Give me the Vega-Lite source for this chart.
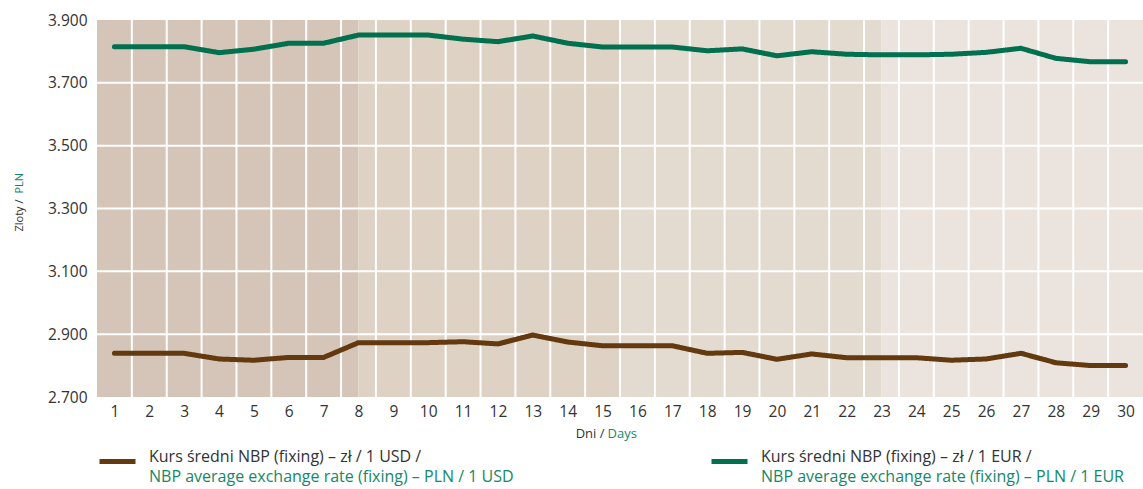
{
  "$schema": "https://vega.github.io/schema/vega-lite/v6.json",
  "width": 1046,
  "height": 377,
  "autosize": {"type": "none"},
  "padding": {"left": 97, "top": 20, "right": 0, "bottom": 92},
  "background": "white",
  "config": {
    "view": {"stroke": null},
    "font": "Open Sans",
    "axis": {"labelFont": "Open Sans", "titleFont": "Open Sans", "titleFontWeight": "normal"},
    "legend": {"labelFont": "Open Sans", "titleFont": "Open Sans"}
  },
  "datasets": {
    "rates": [
      {"day": 1, "cur": "USD", "rate": 2.839}, {"day": 2, "cur": "USD", "rate": 2.839}, {"day": 3, "cur": "USD", "rate": 2.839},
      {"day": 4, "cur": "USD", "rate": 2.821}, {"day": 5, "cur": "USD", "rate": 2.817}, {"day": 6, "cur": "USD", "rate": 2.826},
      {"day": 7, "cur": "USD", "rate": 2.826}, {"day": 8, "cur": "USD", "rate": 2.873}, {"day": 9, "cur": "USD", "rate": 2.873},
      {"day": 10, "cur": "USD", "rate": 2.873}, {"day": 11, "cur": "USD", "rate": 2.876}, {"day": 12, "cur": "USD", "rate": 2.869},
      {"day": 13, "cur": "USD", "rate": 2.897}, {"day": 14, "cur": "USD", "rate": 2.875}, {"day": 15, "cur": "USD", "rate": 2.863},
      {"day": 16, "cur": "USD", "rate": 2.863}, {"day": 17, "cur": "USD", "rate": 2.863}, {"day": 18, "cur": "USD", "rate": 2.839},
      {"day": 19, "cur": "USD", "rate": 2.842}, {"day": 20, "cur": "USD", "rate": 2.820}, {"day": 21, "cur": "USD", "rate": 2.837},
      {"day": 22, "cur": "USD", "rate": 2.825}, {"day": 23, "cur": "USD", "rate": 2.825}, {"day": 24, "cur": "USD", "rate": 2.825},
      {"day": 25, "cur": "USD", "rate": 2.817}, {"day": 26, "cur": "USD", "rate": 2.821}, {"day": 27, "cur": "USD", "rate": 2.839},
      {"day": 28, "cur": "USD", "rate": 2.809}, {"day": 29, "cur": "USD", "rate": 2.800}, {"day": 30, "cur": "USD", "rate": 2.800},
      {"day": 1, "cur": "EUR", "rate": 3.815}, {"day": 2, "cur": "EUR", "rate": 3.815}, {"day": 3, "cur": "EUR", "rate": 3.815},
      {"day": 4, "cur": "EUR", "rate": 3.796}, {"day": 5, "cur": "EUR", "rate": 3.807}, {"day": 6, "cur": "EUR", "rate": 3.826},
      {"day": 7, "cur": "EUR", "rate": 3.826}, {"day": 8, "cur": "EUR", "rate": 3.852}, {"day": 9, "cur": "EUR", "rate": 3.852},
      {"day": 10, "cur": "EUR", "rate": 3.852}, {"day": 11, "cur": "EUR", "rate": 3.839}, {"day": 12, "cur": "EUR", "rate": 3.831},
      {"day": 13, "cur": "EUR", "rate": 3.849}, {"day": 14, "cur": "EUR", "rate": 3.826}, {"day": 15, "cur": "EUR", "rate": 3.814},
      {"day": 16, "cur": "EUR", "rate": 3.814}, {"day": 17, "cur": "EUR", "rate": 3.814}, {"day": 18, "cur": "EUR", "rate": 3.802},
      {"day": 19, "cur": "EUR", "rate": 3.808}, {"day": 20, "cur": "EUR", "rate": 3.786}, {"day": 21, "cur": "EUR", "rate": 3.799},
      {"day": 22, "cur": "EUR", "rate": 3.791}, {"day": 23, "cur": "EUR", "rate": 3.789}, {"day": 24, "cur": "EUR", "rate": 3.789},
      {"day": 25, "cur": "EUR", "rate": 3.791}, {"day": 26, "cur": "EUR", "rate": 3.797}, {"day": 27, "cur": "EUR", "rate": 3.810},
      {"day": 28, "cur": "EUR", "rate": 3.778}, {"day": 29, "cur": "EUR", "rate": 3.767}, {"day": 30, "cur": "EUR", "rate": 3.767}
    ],
    "bands": [
      {"start": 0.5, "end": 8, "band": "q1"},
      {"start": 8, "end": 15.5, "band": "q2"},
      {"start": 15.5, "end": 23, "band": "q3"},
      {"start": 23, "end": 30.5, "band": "q4"}
    ],
    "vgrid": [
      {"d": 1.5}, {"d": 2.5}, {"d": 3.5}, {"d": 4.5}, {"d": 5.5}, {"d": 6.5}, {"d": 7.5}, {"d": 8.5}, {"d": 9.5}, {"d": 10.5},
      {"d": 11.5}, {"d": 12.5}, {"d": 13.5}, {"d": 14.5}, {"d": 15.5}, {"d": 16.5}, {"d": 17.5}, {"d": 18.5}, {"d": 19.5}, {"d": 20.5},
      {"d": 21.5}, {"d": 22.5}, {"d": 23.5}, {"d": 24.5}, {"d": 25.5}, {"d": 26.5}, {"d": 27.5}, {"d": 28.5}, {"d": 29.5}
    ],
    "hgrid": [{"v": 2.9}, {"v": 3.1}, {"v": 3.3}, {"v": 3.5}, {"v": 3.7}]
  },
  "layer": [
    {
      "data": {"name": "bands"},
      "mark": {"type": "rect"},
      "encoding": {
        "x": {"field": "start", "type": "quantitative", "scale": {"domain": [0.5, 30.5], "nice": false, "zero": false}, "axis": null},
        "x2": {"field": "end"},
        "fill": {"field": "band", "type": "nominal", "scale": {"domain": ["q1", "q2", "q3", "q4"], "range": ["#d5c5b8", "#ded2c5", "#e3dad0", "#ebe4de"]}, "legend": null}
      }
    },
    {
      "data": {"name": "vgrid"},
      "mark": {"type": "rule", "color": "white", "strokeWidth": 2},
      "encoding": {
        "x": {"field": "d", "type": "quantitative", "scale": {"domain": [0.5, 30.5], "nice": false, "zero": false}, "axis": null}
      }
    },
    {
      "data": {"name": "hgrid"},
      "mark": {"type": "rule", "color": "white", "strokeWidth": 2},
      "encoding": {
        "y": {"field": "v", "type": "quantitative", "scale": {"domain": [2.7, 3.9], "nice": false, "zero": false}, "axis": null}
      }
    },
    {
      "data": {"name": "rates"},
      "transform": [{"filter": "datum.cur === 'USD'"}],
      "mark": {"type": "line", "strokeWidth": 5, "strokeCap": "round", "strokeJoin": "round"},
      "encoding": {
        "x": {
          "field": "day", "type": "quantitative",
          "scale": {"domain": [0.5, 30.5], "nice": false, "zero": false},
          "axis": {
            "orient": "bottom",
            "values": [1,2,3,4,5,6,7,8,9,10,11,12,13,14,15,16,17,18,19,20,21,22,23,24,25,26,27,28,29,30],
            "format": "d", "labelFontSize": 15.5, "labelColor": "#333333", "labelPadding": 7,
            "ticks": false, "domain": false, "grid": false,
            "title": "Dni /", "titleColor": "#333333", "titleFontSize": 13,
            "titleX": 507, "titleY": 40, "titleAlign": "right", "titleBaseline": "alphabetic"
          }
        },
        "y": {
          "field": "rate", "type": "quantitative",
          "scale": {"domain": [2.7, 3.9], "nice": false, "zero": false},
          "axis": {
            "orient": "left",
            "values": [2.7, 2.9, 3.1, 3.3, 3.5, 3.7, 3.9],
            "format": ".3f", "labelFontSize": 15.5, "labelColor": "#333333", "labelPadding": 10,
            "ticks": false, "domain": false, "grid": false,
            "title": "Zloty /", "titleColor": "#333333", "titleFontSize": 11,
            "titleAngle": 270, "titleX": -73, "titleY": 179, "titleAlign": "right", "titleBaseline": "bottom"
          }
        },
        "color": {
          "field": "cur", "type": "nominal",
          "scale": {"domain": ["USD"], "range": ["#63390f"]},
          "legend": {
            "orient": "none", "legendX": 0, "legendY": 421, "title": null, "padding": 0,
            "symbolType": "stroke", "symbolSize": 1296, "symbolStrokeWidth": 5, "labelOffset": 11,
            "labelFontSize": 16, "labelColor": "#333333", "labelLimit": 700, "labelBaseline": "alphabetic",
            "labelExpr": "'Kurs średni NBP (fixing) – zł / 1 ' + datum.label + ' /'"
          }
        },
        "strokeDash": {
          "field": "cur", "type": "nominal",
          "scale": {"range": [[1, 0]]},
          "legend": {
            "orient": "none", "legendX": 0, "legendY": 441, "title": null, "padding": 0,
            "symbolType": "stroke", "symbolSize": 1296, "symbolStrokeWidth": 5, "symbolOpacity": 0, "labelOffset": 11,
            "labelFontSize": 16, "labelColor": "#15876a", "labelLimit": 700, "labelBaseline": "alphabetic",
            "labelExpr": "'NBP average exchange rate (fixing) – PLN / 1 ' + datum.label"
          }
        }
      }
    },
    {
      "data": {"name": "rates"},
      "transform": [{"filter": "datum.cur === 'EUR'"}],
      "mark": {"type": "line", "strokeWidth": 5, "strokeCap": "round", "strokeJoin": "round"},
      "encoding": {
        "x": {"field": "day", "type": "quantitative", "scale": {"domain": [0.5, 30.5], "nice": false, "zero": false}, "axis": null},
        "y": {"field": "rate", "type": "quantitative", "scale": {"domain": [2.7, 3.9], "nice": false, "zero": false}, "axis": null},
        "color": {
          "field": "cur", "type": "nominal",
          "scale": {"domain": ["EUR"], "range": ["#00704f"]},
          "legend": {
            "orient": "none", "legendX": 612, "legendY": 421, "title": null, "padding": 0,
            "symbolType": "stroke", "symbolSize": 1296, "symbolStrokeWidth": 5, "labelOffset": 11,
            "labelFontSize": 16, "labelColor": "#333333", "labelLimit": 700, "labelBaseline": "alphabetic",
            "labelExpr": "'Kurs średni NBP (fixing) – zł / 1 ' + datum.label + ' /'"
          }
        },
        "strokeDash": {
          "field": "cur", "type": "nominal",
          "scale": {"range": [[1, 0]]},
          "legend": {
            "orient": "none", "legendX": 612, "legendY": 441, "title": null, "padding": 0,
            "symbolType": "stroke", "symbolSize": 1296, "symbolStrokeWidth": 5, "symbolOpacity": 0, "labelOffset": 11,
            "labelFontSize": 16, "labelColor": "#15876a", "labelLimit": 700, "labelBaseline": "alphabetic",
            "labelExpr": "'NBP average exchange rate (fixing) – PLN / 1 ' + datum.label"
          }
        }
      }
    },
    {
      "data": {"name": "rates"},
      "mark": {"type": "point", "opacity": 0},
      "encoding": {
        "x": {
          "field": "day", "type": "quantitative",
          "scale": {"domain": [0.5, 30.5], "nice": false, "zero": false},
          "axis": {
            "orient": "bottom", "labels": false, "ticks": false, "domain": false, "grid": false,
            "title": "Days", "titleColor": "#15876a", "titleFontSize": 13,
            "titleX": 510, "titleY": 40, "titleAlign": "left", "titleBaseline": "alphabetic"
          }
        },
        "y": {
          "field": "rate", "type": "quantitative",
          "scale": {"domain": [2.7, 3.9], "nice": false, "zero": false},
          "axis": {
            "orient": "left", "labels": false, "ticks": false, "domain": false, "grid": false,
            "title": "PLN", "titleColor": "#15876a", "titleFontSize": 11,
            "titleAngle": 270, "titleX": -73, "titleY": 173, "titleAlign": "left", "titleBaseline": "bottom"
          }
        }
      }
    }
  ],
  "resolve": {"scale": {"x": "independent", "y": "independent", "color": "independent", "strokeDash": "independent"}}
}
